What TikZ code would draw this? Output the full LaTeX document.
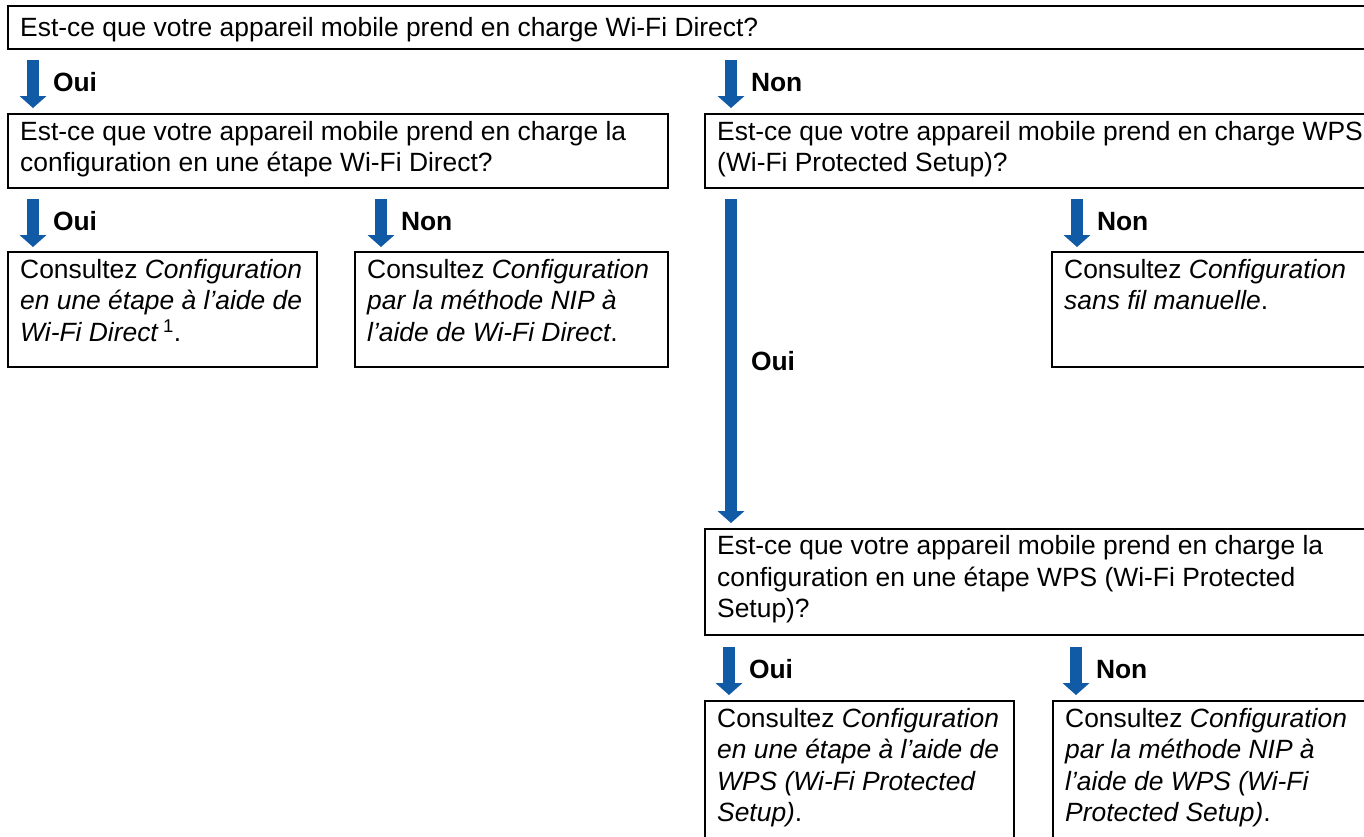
\documentclass[tikz,border=0pt]{standalone}
\usepackage{fontspec}
\setmainfont{Liberation Sans}
\usetikzlibrary{arrows.meta,calc,positioning}
\definecolor{flowblue}{RGB}{17,90,165}
\newcommand{\flowfont}{\fontsize{26.4}{31.5}\selectfont}

\begin{document}
\begin{tikzpicture}[x=1pt,y=-1pt,
  frame/.style={draw=black, line width=2pt, inner sep=0pt, outer sep=0pt, anchor=north west},
  txt/.style={anchor=north west, align=left, inner sep=0pt, font=\flowfont, execute at begin node={\rule{0pt}{24pt}}},
  lbl/.style={anchor=base west, inner sep=0pt, font=\flowfont\bfseries, xshift=14pt, yshift=-31pt},
  go/.style={draw=flowblue, line width=12pt, -{Triangle[width=27pt,length=12pt,line width=0pt]}}]
\useasboundingbox (0,0) rectangle (1364,836);
\node [frame, minimum width=1362, minimum height=43] (q1) at (8,6) {};
\node [frame, minimum width=660, minimum height=74] (q2) at (8,114) {};
\node [frame, minimum width=665, minimum height=74] (q3) at (705,114) {};
\node [frame, minimum width=309, minimum height=115] (r1) at (8,252) {};
\node [frame, minimum width=313, minimum height=115] (r2) at (355,252) {};
\node [frame, minimum width=318, minimum height=115] (r3) at (1052,252) {};
\node [frame, minimum width=665, minimum height=106] (q4) at (705,529) {};
\node [frame, minimum width=309, minimum height=150] (r4) at (705,701) {};
\node [frame, minimum width=317, minimum height=150] (r5) at (1053,701) {};
\node [txt] (q1t) at ($(q1.north west)+(12,6.5)$) {Est-ce que votre appareil mobile prend en charge Wi-Fi Direct?};
\node [txt] (q2t) at ($(q2.north west)+(12,7)$) {Est-ce que votre appareil mobile prend en charge la\\configuration en une étape Wi-Fi Direct?};
\node [txt] (q3t) at ($(q3.north west)+(12,7)$) {Est-ce que votre appareil mobile prend en charge WPS\\(Wi-Fi Protected Setup)?};
\node [txt] (r1t) at ($(r1.north west)+(12,7)$) {Consultez \textit{Configuration}\\\textit{en une étape à l’aide de}\\\textit{Wi-Fi Direct}\,\textsuperscript{1}.};
\node [txt] (r2t) at ($(r2.north west)+(12,7)$) {Consultez \textit{Configuration}\\\textit{par la méthode NIP à}\\\textit{l’aide de Wi-Fi Direct}.};
\node [txt] (r3t) at ($(r3.north west)+(12,7)$) {Consultez \textit{Configuration}\\\textit{sans fil manuelle}.};
\node [txt] (q4t) at ($(q4.north west)+(12,6.5)$) {Est-ce que votre appareil mobile prend en charge la\\configuration en une étape WPS (Wi-Fi Protected\\Setup)?};
\node [txt] (r4t) at ($(r4.north west)+(12,7)$) {Consultez \textit{Configuration}\\\textit{en une étape à l’aide de}\\\textit{WPS (Wi-Fi Protected}\\\textit{Setup)}.};
\node [txt] (r5t) at ($(r5.north west)+(12,7)$) {Consultez \textit{Configuration}\\\textit{par la méthode NIP à}\\\textit{l’aide de WPS (Wi-Fi}\\\textit{Protected Setup)}.};
\draw [go] ($(q1.south west)+(25,11)$) -- ($(q2.north west)+(25,-6)$) node [lbl, at start] (l1) {Oui};
\draw [go] ($(q1.south -| q3.west)+(26,11)$) -- ($(q3.north west)+(26,-6)$) node [lbl, at start] (l2) {Non};
\draw [go] ($(q2.south west)+(25,11)$) -- ($(r1.north west)+(25,-5)$) node [lbl, at start] (l3) {Oui};
\draw [go] ($(q2.south -| r2.west)+(26,11)$) -- ($(r2.north west)+(26,-5)$) node [lbl, at start] (l4) {Non};
\draw [go] ($(q3.south west)+(26,11)$) -- ($(q4.north west)+(26,-6)$) node [lbl, at start, yshift=-140pt] (l5) {Oui};
\draw [go] ($(q3.south -| r3.west)+(25,11)$) -- ($(r3.north west)+(25,-5)$) node [lbl, at start] (l6) {Non};
\draw [go] ($(q4.south west)+(24,12)$) -- ($(r4.north west)+(24,-6)$) node [lbl, at start] (l7) {Oui};
\draw [go] ($(q4.south -| r5.west)+(23,12)$) -- ($(r5.north west)+(23,-6)$) node [lbl, at start] (l8) {Non};
\end{tikzpicture}
\end{document}
